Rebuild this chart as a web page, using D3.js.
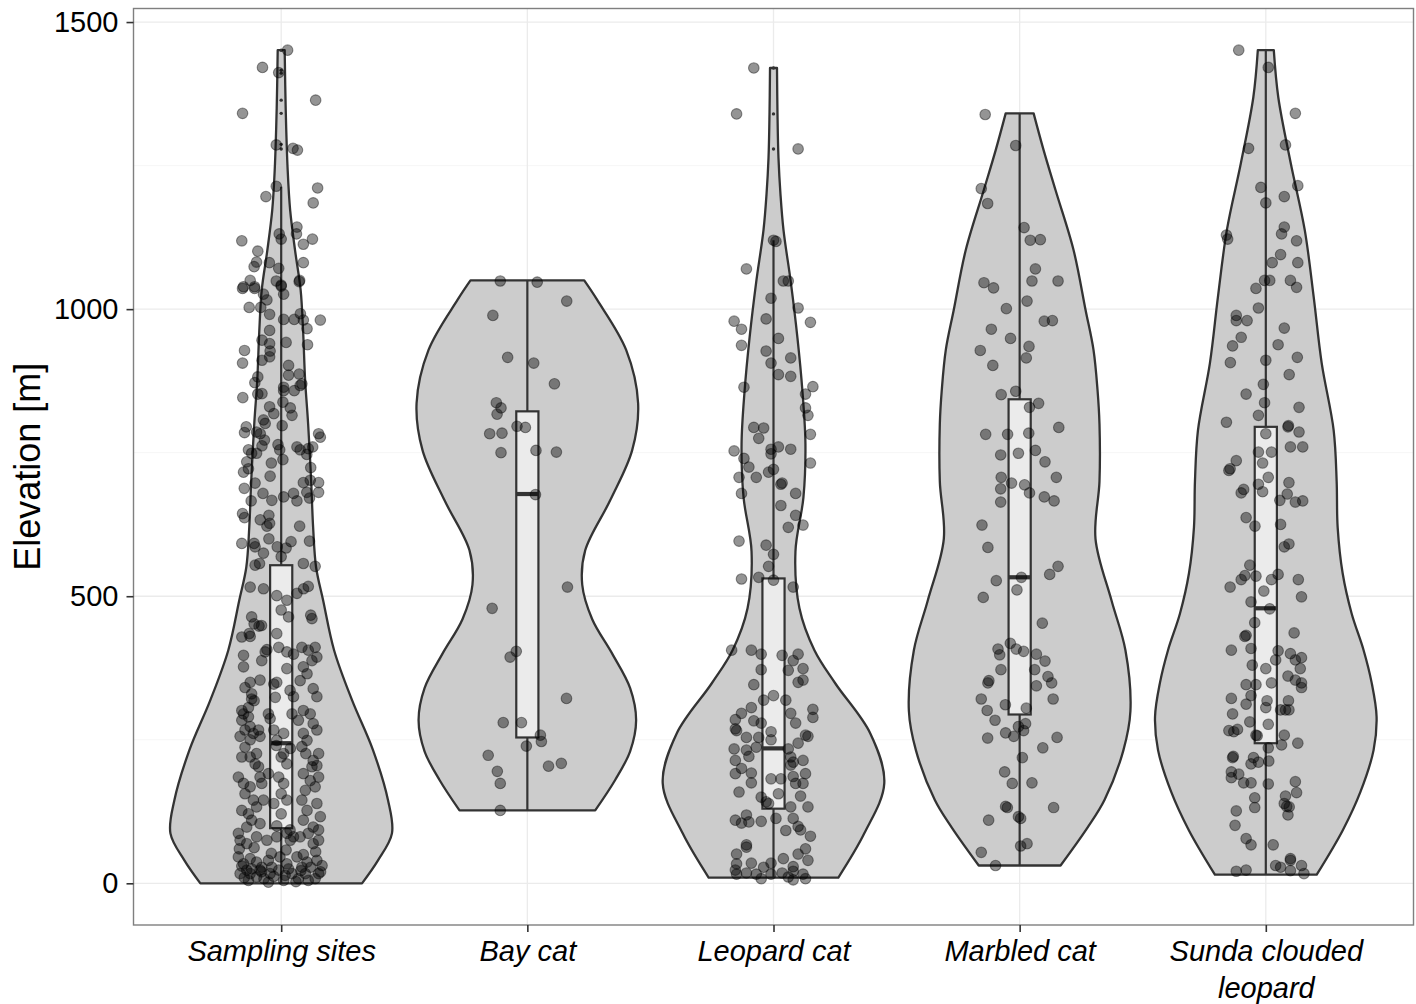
<!DOCTYPE html>
<html>
<head>
<meta charset="utf-8">
<script src="https://cdn.jsdelivr.net/npm/d3@7"></script>
<style>
  html, body { margin: 0; padding: 0; background: #ffffff; }
  svg { display: block; }
  text { font-family: "Liberation Sans", Arial, Helvetica, sans-serif; }
</style>
</head>
<body>
<svg id="chart" width="1416" height="1004"></svg>
<script>
// ---------------- DATA ----------------
const categories = ["Sampling sites", "Bay cat", "Leopard cat", "Marbled cat", "Sunda clouded leopard"];
const categoryLines = [["Sampling sites"], ["Bay cat"], ["Leopard cat"], ["Marbled cat"], ["Sunda clouded", "leopard"]];
const yTickValues = [0, 500, 1000, 1500];
const yMinorValues = [250, 750, 1250];
const yTitle = "Elevation [m]";

// violin density profiles: [elevation, relative density]
const violinSampling = [[0,81],[40,97],[87,111],[145,107],[232,92],[319,71],[406,53],[493,42],[550,35],[620,32],[702,30],[800,27],[876,24],[960,22],[1033,19.5],[1101,14],[1172,9],[1242,6.5],[1350,4.5],[1451,3.5]];
const violinBay = [[127,68],[180,88],[230,103],[284,109],[340,103],[400,85],[460,65],[520,55],[580,58],[667,83],[754,105],[836,111],[929,99],[1016,70],[1050,57]];
const violinLeopard = [[10,65],[87,91],[174,111],[261,97],[348,62],[406,41],[479,26],[578,22],[672,30],[765,32],[857,29],[950,24],[1045,17.5],[1138,10],[1200,7],[1263,5],[1340,4],[1420,3.5]];
const violinMarbled = [[31,41],[97,68],[145,85],[232,104],[300,111],[406,106],[493,92],[600,76],[700,80],[800,80],[860,78],[929,74],[999,66],[1103,54],[1207,36],[1277,24],[1341,14]];
const violinSunda = [[15,51],[92,77],[160,95],[232,108],[290,111],[350,106],[406,98],[470,86],[540,77],[620,72],[700,71],[789,68],[906,56],[1021,48],[1138,39],[1254,25],[1369,12.5],[1451,8]];

// boxplot statistics
const whiskerLow  = [0, 127, 10, 31, 15];
const quartile1   = [96, 254, 130, 294, 244];
const medians     = [244, 678, 235, 533, 479];
const quartile3   = [554, 822, 531, 843, 795];
const whiskerHigh = [1213, 1050, 1120, 1341, 1451];
const outliersSampling = [1451, 1416, 1411, 1364, 1341, 1287, 1279];
const outliersBay = [];
const outliersLeopard = [1420, 1340, 1279];
const outliersMarbled = [];
const outliersSunda = [];

// jittered observations: [jitter (category units), elevation]
const pointsSampling = [
[0.026,1451],[-0.076,1421],[-0.01,1412],[0.14,1364],[-0.157,1341],[-0.02,1286],[0.048,1280],[0.066,1277],[-0.02,1214],[0.148,1211],[-0.062,1196],[0.13,1185],[0.064,1143],[-0.008,1131],[0,1122],[0.062,1131],[-0.16,1119],[0.127,1122],[0.09,1113],[-0.095,1101],[-0.1,1082],[-0.11,1074],[-0.048,1081],[-0.01,1071],[0.09,1081],[-0.126,1050],[-0.153,1039],[-0.02,1049],[0.075,1050],[-0.108,1039],[0,1040],
[-0.157,1036],[-0.108,1036],[-0.072,1026],[-0.058,1016],[0,1042],[0.01,1026],[0.073,1048],[-0.13,1003],[-0.083,1003],[-0.047,991],[0.01,982],[0.053,982],[0.078,992],[0.09,981],[0.105,966],[0.159,981],[-0.047,963],[-0.078,946],[-0.047,940],[-0.045,927],[-0.047,917],[0.02,942],[-0.149,928],[-0.157,906],[-0.078,911],[0.107,938],[0.03,902],[0.03,885],[0.073,887],[-0.095,882],[-0.107,872],[-0.078,853],[-0.095,852],[0.01,864],[0.01,858],[0.053,858],[0.077,867],[0.084,870],[-0.156,846],[0.007,838],[0.037,828],[0.044,815],[-0.047,830],[-0.03,818],[-0.072,807],[-0.065,801],[0.004,797],[0.152,783],[0.159,777],[-0.142,795],[-0.149,785],[-0.1,786],[-0.085,783],[-0.068,772],[-0.078,762],[-0.1,749],[-0.133,755],[-0.12,749],[-0.013,764],[-0.006,755],[0.007,738],[0.064,760],[0.077,755],[0.11,757],[0.128,760],[0.104,747],[0.12,724],[-0.153,716],[-0.14,734],[-0.133,722],[-0.04,732],[-0.045,709],[-0.15,688],[-0.122,666],[-0.106,697],[-0.074,679],[-0.038,667],[0.01,673],[0.05,679],[0.064,666],[0.115,671],[0.09,698],[0.118,702],[0.152,698],[0.104,681],[0.152,681],[-0.157,644],[-0.149,637],[-0.085,633],[-0.05,641],[-0.058,622],[-0.047,627],[0.075,622],[-0.16,592],[-0.11,592],[-0.106,586],[-0.072,575],[-0.088,557],[-0.106,554],[-0.05,600],[-0.016,586],[0,569],[0.02,584],[0.04,595],[0.115,596],[0.09,557],[0.138,552],
[-0.126,516],[-0.072,513],[-0.018,501],[0.023,493],[0.064,505],[0.091,513],[0.11,517],[-0.12,464],[-0.11,452],[-0.09,448],[-0.08,449],[0,476],[0.03,464],[0.125,461],[0.12,467],[-0.16,429],[-0.126,430],[-0.13,435],[-0.018,435],
[-0.058,407],[-0.065,403],[-0.079,388],[-0.153,397],[-0.153,377],[-0.086,354],[-0.01,411],[0.023,403],[0.05,399],[0.023,374],[0.084,411],[0.11,406],[0.138,411],[0.145,394],[0.125,388],[0.09,377],[0.105,365],[0.077,353],[0.13,339],[0.145,325],[-0.126,350],[-0.147,341],[-0.12,330],[-0.11,318],[-0.03,347],[-0.018,350],[-0.024,324],[0.036,336],[0.05,325],[-0.12,321],[-0.133,306],[-0.153,295],
[-0.16,301],[-0.16,284],[-0.133,290],[-0.126,273],[-0.113,261],[-0.092,267],[-0.147,267],[-0.126,250],[-0.086,256],[-0.167,256],[-0.052,295],[-0.045,287],[-0.03,267],[-0.018,249],[0.01,261],[0.044,295],[0.07,284],[0.09,301],[0.118,295],[0.13,278],[0.145,267],[0.09,261],[0.105,249],[0.084,238],[-0.02,240],[0.037,235],[-0.147,237],[-0.126,220],[-0.106,208],[-0.16,220],[-0.1,226],[-0.092,203],[0,220],[0.023,208],[0.01,226],[0.1,226],[0.13,214],[0.145,205],[0.125,203],[0.152,226],
[-0.174,185],[-0.153,174],[-0.126,168],[-0.086,185],[-0.079,174],[-0.147,156],[-0.113,145],[-0.1,133],[-0.16,127],[-0.133,121],[-0.072,145],[-0.12,110],[-0.14,98],[-0.086,104],[-0.174,87],[-0.052,191],[-0.01,185],[0.01,174],[0,156],[-0.03,139],[0.023,145],[0,121],[-0.018,100],[0.09,191],[0.118,179],[0.152,185],[0.098,162],[0.138,168],[0.084,145],[0.105,127],[0.145,139],[0.159,116],[0.09,110],[0.13,98],[0.152,93],[0.11,87],[0.036,93],[0.023,87],[0.05,81],
[-0.167,75],[-0.14,69],[-0.1,81],[-0.058,75],[-0.018,81],[0.037,75],[0.077,81],[0.13,69],[0.152,75],
[-0.174,46],[-0.153,34],[-0.126,43],[-0.1,37],[-0.079,28],[-0.052,40],[-0.005,46],[0.023,34],[0.064,46],[0.105,37],[0.145,40],[0.166,31],[0.084,28],[-0.038,28],[-0.14,23],
[-0.167,17],[-0.133,5],[-0.1,11],[-0.052,2],[-0.045,17],[0.01,5],[0.016,14],[0.044,17],[0.07,8],[0.098,17],[0.138,8],[0.152,17],[-0.01,23],[-0.086,23],[-0.126,17],
[-0.16,30],[-0.12,25],[-0.08,20],[-0.03,12],[0.03,25],[0.08,22],[0.12,28],[0.16,20],[-0.15,10],[0.06,3],[-0.07,8],[0.11,5],[-0.17,60],[-0.11,62],[0.14,55],[0.02,58],[-0.04,52],[0.09,50]
];
const pointsBay = [
[-0.11,1049],[0.04,1047],[0.16,1014],[-0.14,989],[-0.08,916],[0.026,906],[0.11,870],[-0.126,837],[-0.107,828],[-0.123,817],[-0.042,796],[-0.008,794],[-0.153,783],[-0.103,784],[-0.107,750],[0.035,754],[0.118,751],[0.033,677],[0.163,516],[-0.143,479],[-0.045,404],[-0.07,394],[0.159,322],[-0.098,280],[-0.024,280],[0.053,258],[0.057,247],[-0.004,239],[-0.159,223],[0.138,209],[0.086,204],[-0.122,195],[-0.11,174],[-0.11,127]
];
const pointsLeopard = [
[-0.08,1420],[-0.15,1340],[0.10,1279],[0.00,1120],[0.01,1118],[-0.11,1070],[0.04,1049],[0.06,1049],[-0.01,1019],[0.10,1002],[-0.03,983],[-0.16,979],[-0.13,965],[0.15,977],[0.02,949],[-0.13,937],[-0.03,927],[0.07,915],[-0.01,906],[0.02,886],[0.07,883],[-0.12,864],[0.16,865],[0.13,852],[0.13,828],[0.14,815],[-0.08,794],[-0.04,793],[-0.06,775],[0.15,782],[-0.16,753],[-0.01,756],[-0.01,748],[0.02,760],[0.07,756],[-0.12,740],[0.15,732],[-0.10,725],[0.00,721],[-0.02,716],[-0.14,707],[-0.07,707],[0.03,695],[0.035,697],[-0.13,679],[0.09,679],[0.03,658],[0.09,641],[0.12,624],[0.06,620],[-0.14,596],[-0.03,589],[0.00,573],[-0.02,552],[-0.13,530],[-0.06,533],[0.00,528],[0.08,516],
[-0.17,406],[-0.09,406],[-0.05,399],[0.035,397],[0.10,399],[0.08,388],[0.12,374],[-0.05,372],[0.06,371],[-0.08,346],[0.10,350],[0.12,354],[0.00,327],[-0.04,319],[0.05,319],[-0.09,306],[0.16,303],[-0.13,296],[0.07,296],[0.16,289],[-0.155,285],[-0.08,283],[-0.05,279],[0.09,279],[-0.155,269],[-0.15,266],[-0.11,254],[-0.06,254],[-0.01,264],[-0.01,250],[0.13,258],[0.14,256],[-0.16,234],[-0.11,232],[-0.07,237],[0.06,234],[0.10,244],[0.07,220],[-0.10,221],[-0.155,214],[-0.13,200],[-0.155,191],[-0.09,192],[0.08,211],[0.12,214],[0.07,206],[-0.01,182],[0.03,182],[0.08,186],[0.13,191],[-0.09,175],[0.09,174],[0.12,174],[-0.14,159],[-0.05,150],[-0.02,139],[0.02,156],[0.11,152],[0.07,133],[0.14,133],[-0.03,142],[-0.155,110],[-0.13,105],[-0.11,119],[-0.10,107],[-0.05,108],[0.01,113],[0.08,113],[0.05,92],[0.10,99],[0.11,93],[0.15,82],[-0.11,67],[-0.11,63],[-0.15,51],[0.13,60],[0.10,51],[-0.15,34],[-0.09,35],[-0.04,28],[-0.01,35],[0.04,43],[0.08,29],[0.14,40],[-0.155,23],[-0.15,16],[-0.11,18],[-0.07,16],[-0.01,16],[0.035,18],[0.08,21],[0.12,16],[0.13,8],[-0.05,8],[0.08,6],[0.06,11]
];
const pointsMarbled = [
[-0.14,1339],[-0.016,1285],[-0.156,1210],[-0.13,1184],[0.018,1142],[0.043,1120],[0.084,1121],[0.064,1070],[0.05,1049],[0.156,1049],[-0.145,1046],[-0.106,1037],[0.03,1014],[-0.054,1001],[0.10,979],[0.133,980],[-0.115,965],[-0.037,949],[0.038,935],[-0.16,928],[0.027,915],[-0.109,902],[-0.075,851],[-0.016,857],[0.04,829],[0.077,836],[-0.138,782],[-0.049,782],[0.037,784],[0.159,794],[-0.077,746],[-0.005,749],[0.064,754],[0.103,734],[-0.075,707],[0.149,707],[-0.077,687],[-0.033,697],[0.02,694],[0.04,680],[0.10,673],[0.14,666],[-0.077,664],[-0.153,624],[-0.129,585],[-0.095,527],[-0.148,498],[0.007,533],[-0.011,511],[0.122,538],[0.156,552],[0.092,453],[-0.088,408],[-0.081,398],[-0.038,418],[-0.014,408],[0.016,404],[0.068,399],[0.103,387],[-0.076,372],[-0.125,353],[-0.129,349],[0.061,372],[0.115,360],[0.13,349],[0.068,344],[-0.156,321],[0.136,321],[-0.132,301],[-0.058,311],[0.027,305],[-0.10,284],[-0.005,273],[0.024,278],[-0.057,262],[-0.024,256],[0.016,266],[-0.13,253],[0.152,254],[0.094,236],[0.011,219],[-0.061,194],[-0.03,174],[0.05,175],[-0.057,134],[-0.05,132],[-0.005,116],[0.004,113],[0.138,132],[-0.126,110],[0.004,65],[0.03,69],[-0.156,54],[-0.098,31]
];
const pointsSunda = [
[-0.11,1451],[0.01,1421],[0.12,1341],[0.08,1286],[-0.07,1280],[-0.02,1212],[0,1185],[0.075,1196],[0.13,1215],[0.075,1143],[0.064,1131],[0.125,1119],[-0.16,1129],[-0.155,1122],[0.06,1095],[0.026,1081],[0.13,1081],[-0.005,1050],[0.016,1050],[-0.04,1036],[0.1,1050],[0.125,1038],[-0.03,1002],[-0.12,989],[-0.12,980],[-0.076,980],[0.075,967],[-0.1,951],[-0.135,936],[0.05,938],[-0.144,907],[0,911],[0.128,916],[0.095,886],[-0.01,869],[-0.08,852],[-0.005,837],[0.135,829],[-0.03,815],[-0.16,803],[0.09,795],[0.092,797],[0.135,786],[0,783],
[0.1,760],[0.15,760],[-0.03,751],[0.023,751],[-0.013,732],[-0.12,736],[-0.15,719],[-0.145,722],[0.01,707],[-0.03,695],[-0.013,682],[0.094,698],[-0.09,686],[-0.1,680],[0.057,667],[0.087,678],[0.12,664],[0.15,666],[-0.08,637],[-0.044,622],[0.06,625],[0.075,586],[0.094,591],[-0.065,554],[-0.085,536],[-0.1,529],[-0.04,535],[0.023,529],[0.05,538],[-0.145,516],[-0.008,509],[0.132,529],[0.145,499],[-0.06,490],[0.016,478],[-0.045,454],[-0.085,430],[-0.08,432],[0.115,436],[-0.14,406],[-0.06,409],[0.05,405],[0.1,400],[0.12,389],[0.145,393],[0.04,389],[-0.055,380],[0.14,374],[0,374],[0.09,361],[0.12,354],[0.145,349],[0.145,341],[0.023,349],[-0.08,346],[-0.04,346],[-0.06,327],[-0.08,312],[-0.14,322],[-0.135,295],[0.005,318],[0,306],[0.092,318],[0.08,302],[0.094,302],[0.06,302],[0.01,277],[-0.065,281],[-0.15,266],[-0.13,264],[-0.115,268],[-0.04,258],[-0.035,257],[0.075,258],[0.064,241],[0.13,244],[0.01,236],[-0.135,219],[-0.132,221],[-0.05,219],[-0.06,208],[-0.03,211],[0.012,213],[-0.14,194],[-0.14,184],[-0.11,190],[-0.09,175],[-0.06,175],[0.01,173],[0.12,177],[0.125,158],[0.08,152],[0.075,139],[0.085,134],[0.095,133],[0.09,119],[-0.045,149],[-0.045,132],[-0.12,126],[-0.125,101],[-0.08,78],[-0.06,67],[0.03,67],[0.1,43],[0.1,40],[0.04,31],[0.06,28],[0.145,31],[0.155,17],[-0.12,21],[-0.08,23],[0.1,22]
];

const violins = [violinSampling, violinBay, violinLeopard, violinMarbled, violinSunda];
const pointSets = [pointsSampling, pointsBay, pointsLeopard, pointsMarbled, pointsSunda];
const outlierSets = [outliersSampling, outliersBay, outliersLeopard, outliersMarbled, outliersSunda];

// ---------------- LAYOUT ----------------
const panel = { left: 133.5, right: 1413.5, top: 8.5, bottom: 925 };
const svg = d3.select("#chart");

const x = d3.scaleLinear().domain([0.4, categories.length + 0.6]).range([panel.left, panel.right]);
const xPoint = d3.scalePoint().domain(categories).range([x(1), x(categories.length)]);
const y = d3.scaleLinear().domain([-72.6, 1523.6]).range([panel.bottom, panel.top]);
const step = x(2) - x(1);

// grid
const grid = svg.append("g");
grid.selectAll("line.minor").data(yMinorValues).enter().append("line")
  .attr("x1", panel.left).attr("x2", panel.right)
  .attr("y1", d => y(d)).attr("y2", d => y(d))
  .attr("stroke", "#f4f4f4").attr("stroke-width", 0.8);
grid.selectAll("line.major").data(yTickValues).enter().append("line")
  .attr("x1", panel.left).attr("x2", panel.right)
  .attr("y1", d => y(d)).attr("y2", d => y(d))
  .attr("stroke", "#ebebeb").attr("stroke-width", 1.3);
grid.selectAll("line.vmajor").data(categories).enter().append("line")
  .attr("x1", d => xPoint(d)).attr("x2", d => xPoint(d))
  .attr("y1", panel.top).attr("y2", panel.bottom)
  .attr("stroke", "#ebebeb").attr("stroke-width", 1.3);

// violins
const lineColor = "#333333";
const gV = svg.append("g");
violins.forEach((prof, i) => {
  const cx = xPoint(categories[i]);
  const maxD = d3.max(prof, d => d[1]);
  const hw = d => d[1] / maxD * 0.45 * step;
  const area = d3.area()
    .curve(d3.curveCatmullRom.alpha(0.5))
    .y(d => y(d[0]))
    .x0(d => cx - hw(d))
    .x1(d => cx + hw(d));
  gV.append("path").attr("d", area(prof))
    .attr("fill", "#cccccc").attr("stroke", lineColor).attr("stroke-width", 2.3)
    .attr("stroke-linejoin", "round");
});

// boxplots
const gB = svg.append("g");
const boxHalf = 0.045 * step;
categories.forEach((c, i) => {
  const cx = xPoint(c);
  gB.append("line").attr("x1", cx).attr("x2", cx)
    .attr("y1", y(quartile3[i])).attr("y2", y(whiskerHigh[i]))
    .attr("stroke", lineColor).attr("stroke-width", 2.2);
  gB.append("line").attr("x1", cx).attr("x2", cx)
    .attr("y1", y(quartile1[i])).attr("y2", y(whiskerLow[i]))
    .attr("stroke", lineColor).attr("stroke-width", 2.2);
  gB.append("rect").attr("x", cx - boxHalf).attr("width", 2 * boxHalf)
    .attr("y", y(quartile3[i])).attr("height", y(quartile1[i]) - y(quartile3[i]))
    .attr("fill", "#ebebeb").attr("stroke", lineColor).attr("stroke-width", 2.2);
  gB.append("line").attr("x1", cx - boxHalf).attr("x2", cx + boxHalf)
    .attr("y1", y(medians[i])).attr("y2", y(medians[i]))
    .attr("stroke", lineColor).attr("stroke-width", 4.2);
  gB.selectAll(null).data(outlierSets[i]).enter().append("circle")
    .attr("cx", cx).attr("cy", d => y(d)).attr("r", 1.7)
    .attr("fill", lineColor);
});

// jittered points
const gP = svg.append("g");
pointSets.forEach((pts, i) => {
  const cx = xPoint(categories[i]);
  gP.selectAll(null).data(pts).enter().append("circle")
    .attr("cx", d => cx + d[0] * step)
    .attr("cy", d => y(d[1]))
    .attr("r", 5.3)
    .attr("fill", "rgba(0,0,0,0.42)")
    .attr("stroke", "rgba(0,0,0,0.4)")
    .attr("stroke-width", 1.1);
});

// panel border
svg.append("rect")
  .attr("x", panel.left).attr("y", panel.top)
  .attr("width", panel.right - panel.left).attr("height", panel.bottom - panel.top)
  .attr("fill", "none").attr("stroke", "#7f7f7f").attr("stroke-width", 1.4);

// axes
const yAxis = svg.append("g").attr("transform", `translate(${panel.left},0)`)
  .call(d3.axisLeft(y).tickValues(yTickValues).tickSize(7).tickPadding(8).tickFormat(d3.format("d")));
yAxis.select(".domain").remove();
yAxis.selectAll(".tick line").attr("stroke", lineColor).attr("stroke-width", 1.6);
yAxis.selectAll(".tick text").attr("font-size", 29).attr("fill", "#000")
  .attr("font-family", "'Liberation Sans', Arial, sans-serif");

const xAxis = svg.append("g").attr("transform", `translate(0,${panel.bottom})`)
  .call(d3.axisBottom(xPoint).tickSize(7).tickPadding(8));
xAxis.select(".domain").remove();
xAxis.selectAll(".tick line").attr("stroke", lineColor).attr("stroke-width", 1.6);
xAxis.selectAll(".tick text").each(function(d, i) {
  const t = d3.select(this);
  t.text(null).attr("y", 36).attr("dy", null)
    .attr("font-size", 29).attr("font-style", "italic").attr("fill", "#000")
    .attr("font-family", "'Liberation Sans', Arial, sans-serif");
  categoryLines[i].forEach((ln, k) => {
    t.append("tspan").attr("x", 0).attr("dy", k === 0 ? 0 : 37).text(ln);
  });
});

// y title
svg.append("text")
  .attr("transform", `translate(40,${(panel.top + panel.bottom) / 2}) rotate(-90)`)
  .attr("text-anchor", "middle")
  .attr("font-size", 36).attr("fill", "#000")
  .text(yTitle);
</script>
</body>
</html>
